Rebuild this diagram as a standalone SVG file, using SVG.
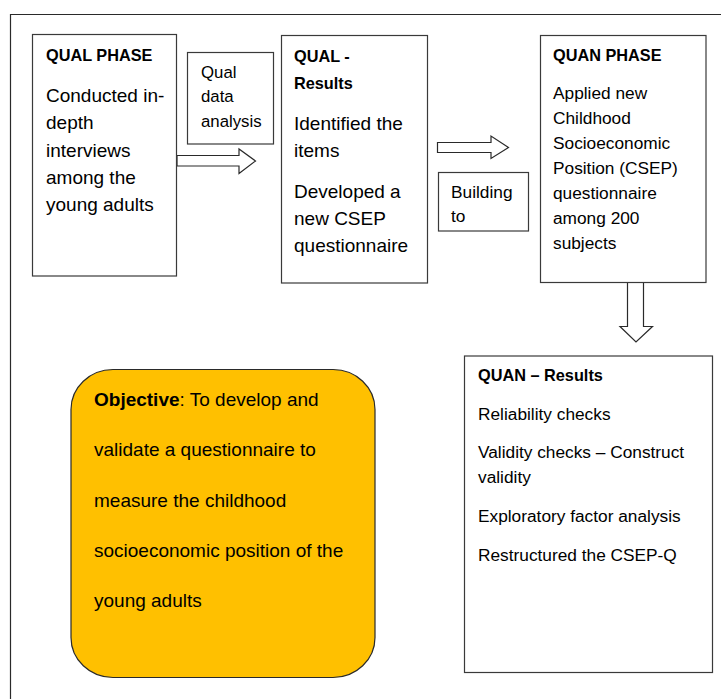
<svg xmlns="http://www.w3.org/2000/svg" width="721" height="699" viewBox="0 0 721 699">
  <style>
    text { font-family: "Liberation Sans", Arial, sans-serif; fill: #000; }
    .box { fill: #fff; stroke: #3a3a3a; stroke-width: 1.2; }
    .obj { fill: #FFC000; stroke: #2a2a2a; stroke-width: 1.2; }
    .arrow { fill: #fff; stroke: #2a2a2a; stroke-width: 1.2; stroke-linejoin: miter; }
    .h { font-weight: bold; font-size: 16.3px; }
    .b19 { font-size: 19px; }
    .b17 { font-size: 17.3px; }
    .b16 { font-size: 16.8px; }
  </style>
  <rect width="721" height="699" fill="#fff"/>
  <path d="M10.5,699 V14.5 H721" fill="none" stroke="#2a2a2a" stroke-width="1.2"/>

  <g id="connectors">
    <path class="arrow" d="M177,155.5 H239 V149 L255.5,161 L239,173.5 V166 H177 Z"/>
    <path class="arrow" d="M437.5,142.5 H491 V136 L508.5,147.5 L491,158.5 V152.5 H437.5 Z"/>
    <path class="arrow" d="M627.5,282.5 V326.5 H620 L636,342 L652.5,326.5 H643.5 V282.5 Z"/>
  </g>

  <g id="qual-phase">
    <rect class="box" x="32.5" y="34.5" width="144" height="241.5"/>
    <text class="h" x="46" y="61">QUAL PHASE</text>
    <text class="b19" x="46" y="102">Conducted in-</text>
    <text class="b19" x="46" y="129">depth</text>
    <text class="b19" x="46" y="156.5">interviews</text>
    <text class="b19" x="46" y="184">among the</text>
    <text class="b19" x="46" y="211">young adults</text>
  </g>

  <g id="qual-data-analysis">
    <rect class="box" x="187.5" y="52.5" width="86" height="91.5"/>
    <text class="b16" x="201" y="77.5">Qual</text>
    <text class="b16" x="201" y="102">data</text>
    <text class="b16" x="201" y="127">analysis</text>
  </g>

  <g id="qual-results">
    <rect class="box" x="281.5" y="35.5" width="146" height="247.5"/>
    <text class="h" x="294" y="62">QUAL -</text>
    <text class="h" x="294" y="89">Results</text>
    <text class="b19" x="294" y="130">Identified the</text>
    <text class="b19" x="294" y="157">items</text>
    <text class="b19" x="294" y="198">Developed a</text>
    <text class="b19" x="294" y="225">new CSEP</text>
    <text class="b19" x="294" y="251.5">questionnaire</text>
  </g>

  <g id="building-to">
    <rect class="box" x="438.5" y="172.5" width="90" height="58.5"/>
    <text class="b17" x="451" y="198">Building</text>
    <text class="b17" x="451" y="222">to</text>
  </g>

  <g id="quan-phase">
    <rect class="box" x="540.5" y="35.5" width="165.5" height="247"/>
    <text class="h" x="553" y="60.5">QUAN PHASE</text>
    <text class="b17" x="553" y="99">Applied new</text>
    <text class="b17" x="553" y="124">Childhood</text>
    <text class="b17" x="553" y="149">Socioeconomic</text>
    <text class="b17" x="553" y="174">Position (CSEP)</text>
    <text class="b17" x="553" y="199">questionnaire</text>
    <text class="b17" x="553" y="224">among 200</text>
    <text class="b17" x="553" y="248.5">subjects</text>
  </g>

  <g id="quan-results">
    <rect class="box" x="464.5" y="356" width="248" height="316.5"/>
    <text class="h" x="478" y="381">QUAN – Results</text>
    <text class="b17" x="478" y="420">Reliability checks</text>
    <text class="b17" x="478" y="458">Validity checks – Construct</text>
    <text class="b17" x="478" y="483">validity</text>
    <text class="b17" x="478" y="522">Exploratory factor analysis</text>
    <text class="b17" x="478" y="561">Restructured the CSEP-Q</text>
  </g>

  <g id="objective">
    <rect class="obj" x="71" y="369.5" width="304" height="308" rx="42" ry="40"/>
    <text class="b19" x="94" y="406"><tspan font-weight="bold">Objective</tspan>: To develop and</text>
    <text class="b19" x="94" y="456">validate a questionnaire to</text>
    <text class="b19" x="94" y="506.5">measure the childhood</text>
    <text class="b19" x="94" y="557">socioeconomic position of the</text>
    <text class="b19" x="94" y="607">young adults</text>
  </g>
</svg>
